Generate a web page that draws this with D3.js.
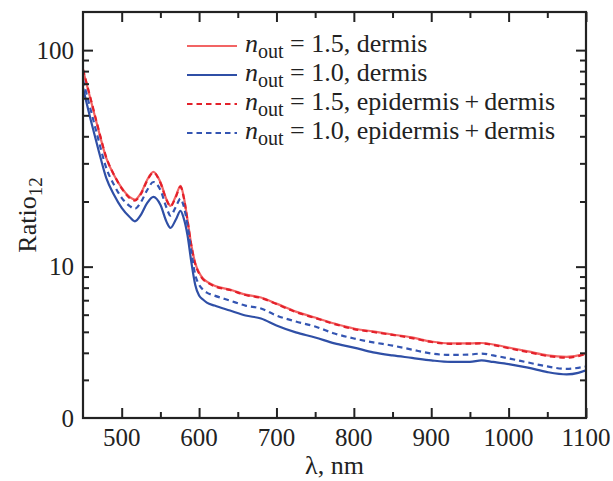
<!DOCTYPE html>
<html>
<head>
<meta charset="utf-8">
<script src="https://cdn.jsdelivr.net/npm/d3@7"></script>
<style>
  html, body { margin: 0; padding: 0; background: #fff; }
  svg { display: block; }
  text { font-family: "Liberation Serif", "Times New Roman", serif; fill: #222; }
</style>
</head>
<body>
<svg id="chart" width="613" height="481"></svg>
<script>
const wavelength = [450, 460, 470, 480, 490, 500, 510, 517, 525, 533, 541, 550, 558, 563, 570, 576, 580, 585, 590, 595, 600, 605, 610, 620, 640, 660, 680, 700, 725, 750, 775, 800, 825, 850, 875, 900, 925, 950, 965, 980, 1000, 1025, 1050, 1075, 1090, 1100];

const red15Dermis = [80.9, 58.8, 42.8, 31.8, 26.5, 23.1, 21.0, 20.4, 21.9, 25.2, 27.4, 24.6, 20.4, 19.1, 21.2, 23.6, 21.2, 16.5, 12.6, 10.4, 9.39, 8.81, 8.53, 8.17, 7.83, 7.43, 7.20, 6.75, 6.20, 5.82, 5.46, 5.18, 5.02, 4.86, 4.71, 4.51, 4.42, 4.42, 4.44, 4.37, 4.23, 4.06, 3.89, 3.83, 3.89, 3.97];
const blue10Dermis = [66.8, 47.6, 34.6, 25.7, 21.5, 18.7, 17.0, 16.2, 17.4, 19.7, 21.0, 19.3, 16.1, 15.1, 16.5, 18.1, 16.8, 14.0, 10.5, 8.26, 7.35, 7.05, 6.82, 6.61, 6.27, 5.95, 5.76, 5.35, 4.97, 4.71, 4.42, 4.23, 4.02, 3.89, 3.79, 3.69, 3.63, 3.63, 3.69, 3.63, 3.55, 3.42, 3.26, 3.18, 3.23, 3.32];
const red15Epi = [81.5, 59.5, 43.2, 32.0, 26.6, 23.0, 20.8, 20.2, 21.7, 25.0, 27.2, 24.4, 20.3, 19.0, 21.0, 23.4, 21.0, 16.4, 12.5, 10.3, 9.30, 8.75, 8.48, 8.12, 7.80, 7.40, 7.16, 6.72, 6.17, 5.79, 5.43, 5.15, 4.99, 4.84, 4.68, 4.49, 4.40, 4.41, 4.42, 4.35, 4.20, 4.03, 3.87, 3.80, 3.86, 3.95];
const blue10Epi = [72.7, 52.9, 38.5, 28.6, 23.9, 20.8, 19.1, 18.5, 19.9, 22.6, 24.6, 22.6, 18.7, 17.2, 18.9, 20.6, 19.1, 15.6, 11.7, 9.19, 8.26, 7.83, 7.59, 7.35, 6.97, 6.61, 6.41, 5.95, 5.58, 5.29, 4.91, 4.66, 4.47, 4.32, 4.14, 3.97, 3.91, 3.93, 3.97, 3.89, 3.77, 3.61, 3.46, 3.37, 3.41, 3.46];

const xMajorTicks = [500, 600, 700, 800, 900, 1000, 1100];
const xMinorTicks = [550, 650, 750, 850, 950, 1050];
const yMajorTicks = [100, 10];
const yMinorTicks = [90, 80, 70, 60, 50, 40, 30, 20, 9, 8, 7, 6, 5, 4, 3];
const yTickLabels = [[100, "100"], [10, "10"], [2, "0"]];

const seriesNames = ["1.5, dermis", "1.0, dermis", "1.5, epidermis\u2009+\u2009dermis", "1.0, epidermis\u2009+\u2009dermis"];
const seriesValues = [red15Dermis, blue10Dermis, red15Epi, blue10Epi];
const seriesColors = ["#f26464", "#2f4fa6", "#e3202a", "#3455b2"];
const seriesDashed = [false, false, true, true];

const svg = d3.select("#chart");
const L = 83, R = 586, T = 12, B = 418;

const x = d3.scaleLinear().domain([450, 1100]).range([L, R]);
const y = d3.scaleLog().domain([2, 150]).range([B, T]);

// clip
svg.append("defs").append("clipPath").attr("id", "clip")
  .append("rect").attr("x", L).attr("y", T).attr("width", R - L).attr("height", B - T);

// curves
const line = d3.line().x((d, i) => x(wavelength[i])).y(d => y(d)).curve(d3.curveMonotoneX);
const gLines = svg.append("g").attr("clip-path", "url(#clip)");
seriesValues.forEach((vals, k) => {
  gLines.append("path")
    .attr("d", line(vals))
    .attr("fill", "none")
    .attr("stroke", seriesColors[k])
    .attr("stroke-width", 2.2)
    .attr("stroke-dasharray", seriesDashed[k] ? "5.5,4" : null);
});

// axes (ticks inward)
function styleAxis(g) {
  g.select(".domain").remove();
  g.selectAll(".tick line").attr("stroke", "#222").attr("stroke-width", 2);
  g.selectAll(".tick text").remove();
}
svg.append("g").attr("transform", `translate(0,${B})`)
  .call(d3.axisBottom(x).tickValues(xMajorTicks).tickSize(-10)).call(styleAxis);
svg.append("g").attr("transform", `translate(0,${B})`)
  .call(d3.axisBottom(x).tickValues(xMinorTicks).tickSize(-6)).call(styleAxis);
svg.append("g").attr("transform", `translate(0,${T})`)
  .call(d3.axisTop(x).tickValues(xMajorTicks).tickSize(-10)).call(styleAxis);
svg.append("g").attr("transform", `translate(0,${T})`)
  .call(d3.axisTop(x).tickValues(xMinorTicks).tickSize(-6)).call(styleAxis);
svg.append("g").attr("transform", `translate(${L},0)`)
  .call(d3.axisLeft(y).tickValues(yMajorTicks).tickSize(-10)).call(styleAxis);
svg.append("g").attr("transform", `translate(${L},0)`)
  .call(d3.axisLeft(y).tickValues(yMinorTicks).tickSize(-6)).call(styleAxis);
svg.append("g").attr("transform", `translate(${R},0)`)
  .call(d3.axisRight(y).tickValues(yMajorTicks).tickSize(-10)).call(styleAxis);
svg.append("g").attr("transform", `translate(${R},0)`)
  .call(d3.axisRight(y).tickValues(yMinorTicks).tickSize(-6)).call(styleAxis);

// frame
svg.append("rect").attr("x", L).attr("y", T).attr("width", R - L).attr("height", B - T)
  .attr("fill", "none").attr("stroke", "#222").attr("stroke-width", 2.2);

// tick labels
svg.append("g").selectAll("text").data(xMajorTicks).join("text")
  .attr("x", d => x(d)).attr("y", 446)
  .attr("text-anchor", "middle").attr("font-size", 25)
  .text(d => d);
svg.append("g").selectAll("text").data(yTickLabels).join("text")
  .attr("x", 74).attr("y", d => y(d[0]) + 8.5)
  .attr("text-anchor", "end").attr("font-size", 25)
  .text(d => d[1]);

// axis titles
svg.append("text").attr("x", (L + R) / 2).attr("y", 474)
  .attr("text-anchor", "middle").attr("font-size", 26).text("\u03bb, nm");
const yt = svg.append("text")
  .attr("transform", `translate(36,${(T + B) / 2}) rotate(-90)`)
  .attr("text-anchor", "middle").attr("font-size", 26);
yt.append("tspan").text("Ratio");
yt.append("tspan").attr("font-size", 19).attr("dy", 6).text("12");

// legend
const legY = [46, 75, 104, 133];
seriesNames.forEach((name, k) => {
  svg.append("line")
    .attr("x1", 187).attr("x2", 237).attr("y1", legY[k]).attr("y2", legY[k])
    .attr("stroke", seriesColors[k]).attr("stroke-width", 2.2)
    .attr("stroke-dasharray", seriesDashed[k] ? "5.5,4" : null);
  const t = svg.append("text").attr("x", 245).attr("y", legY[k] + 6).attr("font-size", 26);
  t.append("tspan").attr("font-style", "italic").text("n");
  t.append("tspan").attr("font-size", 20).attr("dy", 6).text("out");
  t.append("tspan").attr("dy", -6).text("\u00a0=\u00a0" + name);
});
</script>
</body>
</html>
